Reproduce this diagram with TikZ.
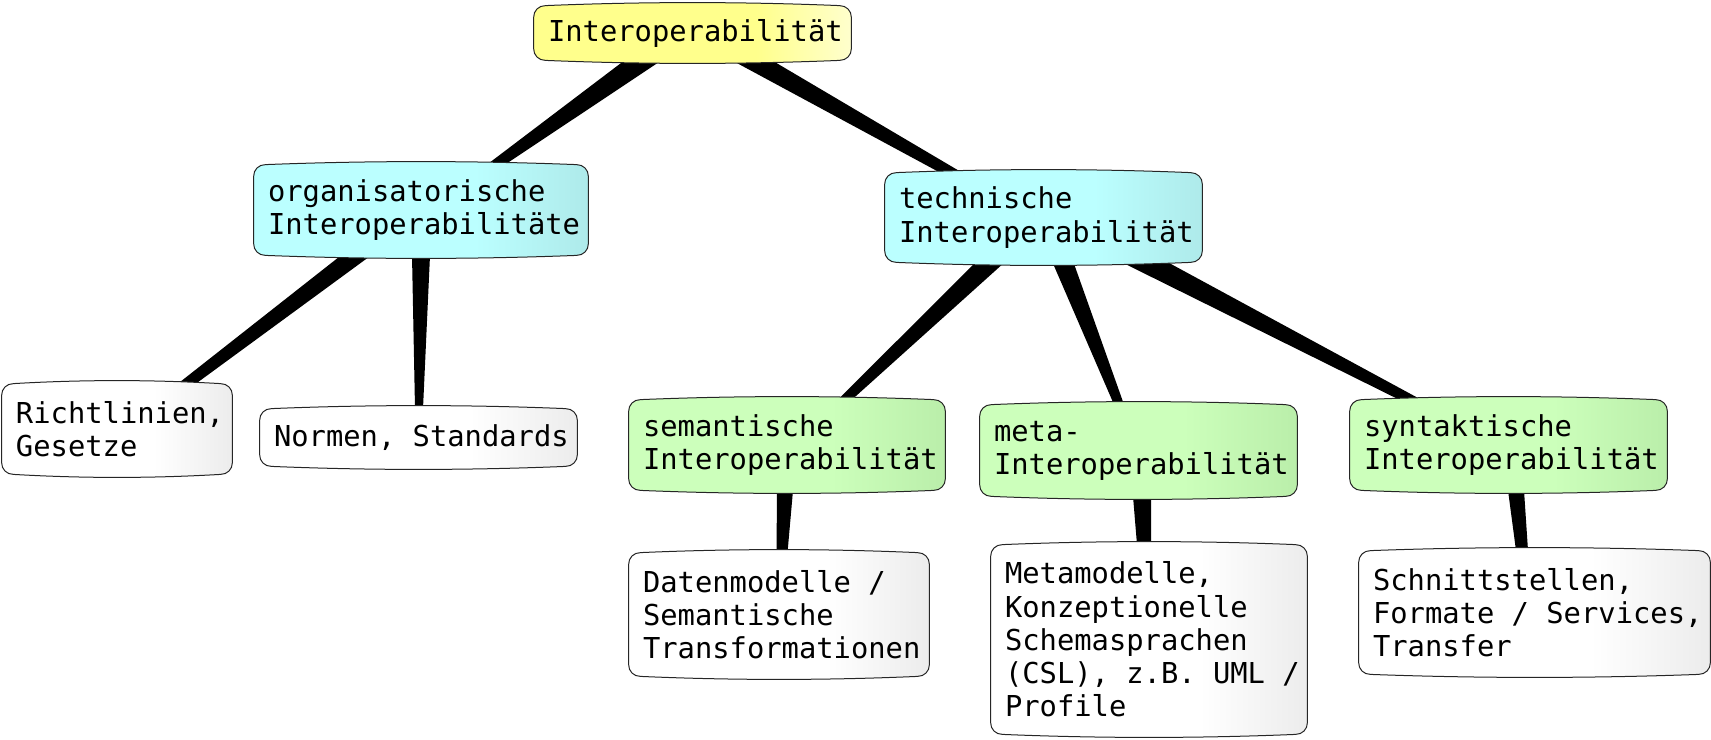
\documentclass[tikz,border=0pt]{standalone}
\usepackage{fontspec}
\newfontfamily\boxfont{DejaVu Sans Mono}[HyphenChar=None]
\usetikzlibrary{calc}
\definecolor{yA}{RGB}{255,255,140}
\definecolor{yB}{RGB}{255,255,205}
\definecolor{cA}{RGB}{187,255,255}
\definecolor{cB}{RGB}{174,234,234}
\definecolor{gA}{RGB}{204,255,187}
\definecolor{gB}{RGB}{186,238,170}
\definecolor{wA}{RGB}{255,255,255}
\definecolor{wB}{RGB}{236,236,236}
\pgfdeclarehorizontalshading{shY}{100bp}{color(0bp)=(yA); color(25bp)=(yA); color(60bp)=(yA); color(75bp)=(yB); color(100bp)=(yB)}
\pgfdeclarehorizontalshading{shC}{100bp}{color(0bp)=(cA); color(25bp)=(cA); color(58bp)=(cA); color(75bp)=(cB); color(100bp)=(cB)}
\pgfdeclarehorizontalshading{shG}{100bp}{color(0bp)=(gA); color(25bp)=(gA); color(57bp)=(gA); color(75bp)=(gB); color(100bp)=(gB)}
\pgfdeclarehorizontalshading{shW}{100bp}{color(0bp)=(wA); color(25bp)=(wA); color(58bp)=(wA); color(75bp)=(wB); color(100bp)=(wB)}
\pgfdeclarelayer{connlayer}
\pgfdeclarelayer{shapelayer}
\pgfsetlayers{connlayer,shapelayer,main}
\tikzset{
  bx/.style={font=\boxfont\fontsize{14.4}{16.6}\selectfont, align=left,
    inner xsep=7pt, inner ysep=0pt, anchor=center,
    execute at begin node={\spaceskip=0pt\xspaceskip=0pt\relax}},
  boxline/.style={draw=black!85, line width=0.5pt},
  wedgefill/.style={fill=black},
}
\newcommand\boxshape[2]{%
\begin{pgfonlayer}{shapelayer}
\path[boxline, shading=#2] let \p1=(#1.north west), \p2=(#1.south east) in
 (\x1,{\y2+6pt}) -- (\x1,{\y1-6pt})
 .. controls (\x1,{\y1-2.5pt}) and ({\x1+2.5pt},\y1) .. ({\x1+6pt},\y1)
 .. controls ({\x1+6pt+(\x2-\x1-12pt)/3},{\y1+2pt}) and ({\x2-6pt-(\x2-\x1-12pt)/3},{\y1+2pt}) .. ({\x2-6pt},\y1)
 .. controls ({\x2-2.5pt},\y1) and (\x2,{\y1-2.5pt}) .. (\x2,{\y1-6pt})
 -- (\x2,{\y2+6pt})
 .. controls (\x2,{\y2+2.5pt}) and ({\x2-2.5pt},\y2) .. ({\x2-6pt},\y2)
 .. controls ({\x2-6pt-(\x2-\x1-12pt)/3},{\y2-2pt}) and ({\x1+6pt+(\x2-\x1-12pt)/3},{\y2-2pt}) .. ({\x1+6pt},\y2)
 .. controls ({\x1+2.5pt},\y2) and (\x1,{\y2+2.5pt}) .. (\x1,{\y2+6pt}) -- cycle;
\end{pgfonlayer}}
% #1 parent, #2 parent x-offset, #3 child, #4 child x-offset, #5 parent width, #6 child width
\newcommand\conn[6]{%
\begin{pgfonlayer}{connlayer}
\path[wedgefill] ($(#1.south)+({#2-#5/2},0)$) -- ($(#1.south)+({#2+#5/2},0)$)
  -- ($(#3.north)+({#4+#6/2},0)$) -- ($(#3.north)+({#4-#6/2},0)$) -- cycle;
\end{pgfonlayer}}
\begin{document}
\begin{tikzpicture}[x=0.5pt, y=-0.5pt]
\useasboundingbox (0,0) rectangle (1711,739);
% nodes
\node[bx, minimum width=158.5pt, minimum height=27pt, text width=144.5pt] (top) at (692.5,33) {Interoperabilität};
\node[bx, minimum width=167pt, minimum height=45pt, text width=153pt] (org) at (421,210) {organisatorische\\Interoperabilitäte};
\node[bx, minimum width=158.5pt, minimum height=44.5pt, text width=144.5pt] (tech) at (1043.5,217.5) {technische\\Interoperabilität};
\node[bx, minimum width=115pt, minimum height=45pt, text width=101pt] (richt) at (117,429) {Richtlinien,\\Gesetze};
\node[bx, minimum width=158.5pt, minimum height=28.5pt, text width=144.5pt] (normen) at (418.5,437.5) {\mbox{Normen, Standards}};
\node[bx, minimum width=158pt, minimum height=45pt, text width=144pt] (sem) at (787,445) {semantische\\Interoperabilität};
\node[bx, minimum width=158.5pt, minimum height=45.5pt, text width=144.5pt] (meta) at (1138.5,450.5) {meta-\\Interoperabilität};
\node[bx, minimum width=158.5pt, minimum height=45pt, text width=144.5pt] (synt) at (1508.5,445) {syntaktische\\Interoperabilität};
\node[bx, minimum width=150pt, minimum height=61.5pt, text width=136pt] (daten) at (779,614.5) {\mbox{Datenmodelle /}\\Semantische\\Transformationen};
\node[bx, minimum width=158pt, minimum height=94.5pt, text width=144pt] (metam) at (1149,639.5) {Metamodelle,\\Konzeptionelle\\Schemasprachen\\\mbox{(CSL), z.B. UML /}\\Profile};
\node[bx, minimum width=175.5pt, minimum height=61.5pt, text width=161.5pt] (schnitt) at (1534.5,612.5) {Schnittstellen,\\\mbox{Formate / Services,}\\Transfer};
% box shapes
\boxshape{top}{shY}
\boxshape{org}{shC}
\boxshape{tech}{shC}
\boxshape{richt}{shW}
\boxshape{normen}{shW}
\boxshape{sem}{shG}
\boxshape{meta}{shG}
\boxshape{synt}{shG}
\boxshape{daten}{shW}
\boxshape{metam}{shW}
\boxshape{schnitt}{shW}
% connectors
\conn{top}{-49.5}{org}{75}{37}{18}
\conn{top}{59.5}{tech}{-92.5}{40}{22}
\conn{org}{-65}{richt}{70}{30}{18}
\conn{org}{0}{normen}{0.5}{18}{8}
\conn{tech}{-53.5}{sem}{58}{29}{14}
\conn{tech}{19.5}{meta}{-19.5}{21}{10}
\conn{tech}{101.5}{synt}{-98.5}{46}{22}
\conn{sem}{-2}{daten}{3}{16}{11}
\conn{meta}{3.5}{metam}{-5}{18}{14}
\conn{synt}{7.5}{schnitt}{-12.5}{16}{12}
\end{tikzpicture}
\end{document}
